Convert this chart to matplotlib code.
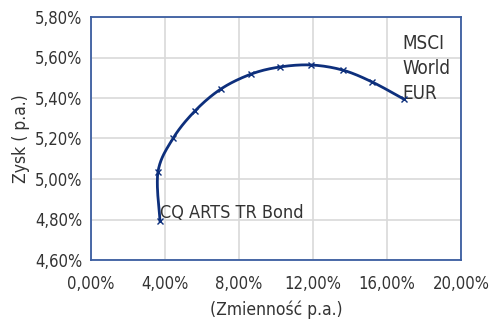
import numpy as np
import matplotlib
matplotlib.use("Agg")
import matplotlib.pyplot as plt
from matplotlib.ticker import FuncFormatter

plt.rcParams['font.family'] = ['DejaVu Sans']
plt.rcParams['font.stretch'] = 'condensed'

volatility = [3.73, 3.62, 4.43, 5.62, 7.03, 8.65, 10.2, 11.9, 13.6, 15.2, 16.9]
returns = [4.793, 5.035, 5.20, 5.336, 5.445, 5.518, 5.553, 5.563, 5.538, 5.479, 5.395]
x_ticks = [0, 4, 8, 12, 16, 20]
y_ticks = [4.6, 4.8, 5.0, 5.2, 5.4, 5.6, 5.8]

def catmull_rom(xs, ys, n=20):
    P = np.column_stack([xs, ys])
    P = np.vstack([P[0], P, P[-1]])
    out = []
    for i in range(1, len(P) - 2):
        p0, p1, p2, p3 = P[i - 1], P[i], P[i + 1], P[i + 2]
        t = np.linspace(0, 1, n, endpoint=False)[:, None]
        pt = 0.5 * ((2 * p1) + (-p0 + p2) * t + (2 * p0 - 5 * p1 + 4 * p2 - p3) * t ** 2
                    + (-p0 + 3 * p1 - 3 * p2 + p3) * t ** 3)
        out.append(pt)
    out.append(P[-2][None, :])
    return np.vstack(out)

ys_scale = 202.5 / 18.5
curve = catmull_rom(np.array(volatility), np.array(returns) * ys_scale)

fig = plt.figure(figsize=(4.91, 3.23), dpi=100)
ax = fig.add_axes([91 / 491, 1 - 260 / 323, 370 / 491, 243 / 323])
line_color = '#0D2F7C'
ax.plot(curve[:, 0], curve[:, 1] / ys_scale, color=line_color, lw=2.0, zorder=3)
ax.plot(volatility, returns, linestyle='none', marker='x', ms=4, mew=1.0,
        color=line_color, zorder=4)

ax.set_xlim(0, 20)
ax.set_ylim(4.6, 5.8)
ax.set_xticks(x_ticks)
ax.set_yticks(y_ticks)
fmt = FuncFormatter(lambda v, p: f"{v:.2f}%".replace('.', ','))
ax.xaxis.set_major_formatter(fmt)
ax.yaxis.set_major_formatter(fmt)
ax.tick_params(length=0, labelsize=12, colors='#333333')
ax.tick_params(axis='x', pad=11)
ax.tick_params(axis='y', pad=6)
ax.grid(True, color='#D9D9D9', lw=1.2)
ax.set_axisbelow(True)
for s in ax.spines.values():
    s.set_color('#3A5DA0')
    s.set_linewidth(1.3)

ax.set_xlabel('(Zmienność p.a.)', fontsize=12.5, color='#333333', labelpad=5)
ax.set_ylabel('Zysk ( p.a.)', fontsize=12.5, color='#333333', labelpad=4)

ax.text(16.85, 5.375, 'MSCI\nWorld\nEUR', fontsize=13.5, color='#333333',
        ha='left', va='bottom', linespacing=1.4)
ax.text(3.75, 4.83, 'CQ ARTS TR Bond', fontsize=13, color='#333333',
        ha='left', va='center')

fig.savefig('out.png', dpi=100)
